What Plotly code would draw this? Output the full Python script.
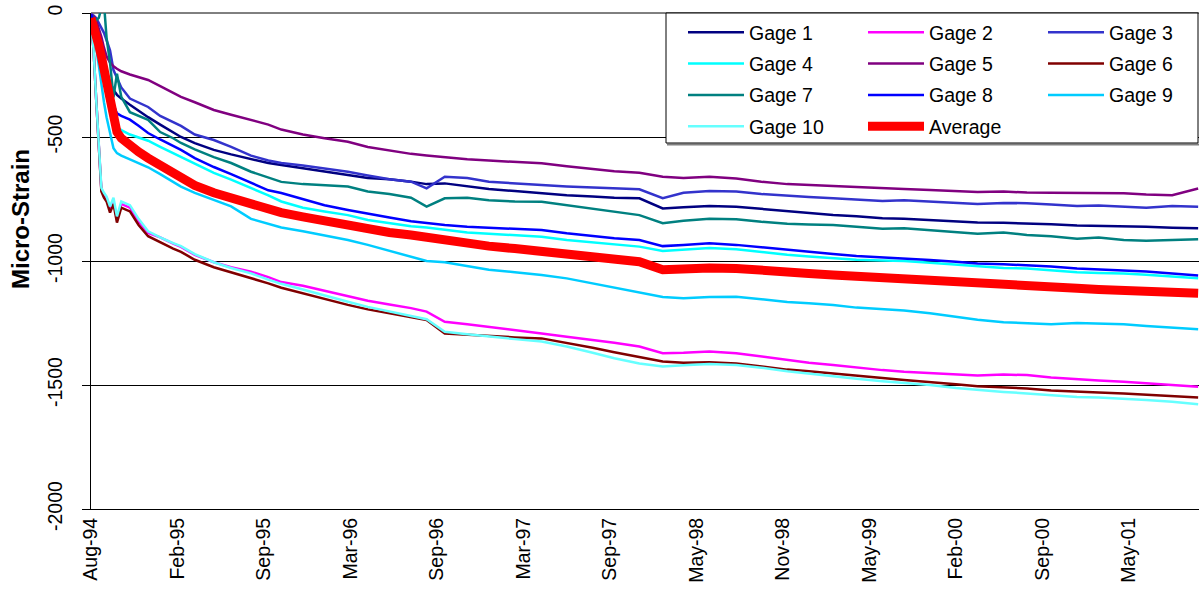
import plotly.graph_objects as go

# x positions in units of "tick-label intervals" (Excel category axis, 13 labels)
tick_labels = ["Aug-94", "Feb-95", "Sep-95", "Mar-96", "Sep-96", "Mar-97", "Sep-97",
               "May-98", "Nov-98", "May-99", "Feb-00", "Sep-00", "May-01"]
tick_positions = list(range(len(tick_labels)))
y_tick_values = [0, -500, -1000, -1500, -2000]
y_tick_labels = ["0", "-500", "-1000", "-1500", "-2000"]

t_pos = [0.00, 0.03, 0.06, 0.09, 0.12, 0.15, 0.18, 0.22, 0.26, 0.30, 0.35, 0.45, 0.55, 0.66,
         0.80, 0.95, 1.04, 1.20, 1.42, 1.62, 1.85, 2.05, 2.20, 2.45, 2.70, 2.97, 3.20, 3.45,
         3.70, 3.88, 4.09, 4.35, 4.60, 4.90, 5.21, 5.50, 5.80, 6.05, 6.34, 6.61, 6.85, 7.15,
         7.46, 7.75, 8.05, 8.30, 8.58, 8.85, 9.15, 9.40, 9.70, 10.0, 10.25, 10.55, 10.82, 11.1,
         11.4, 11.65, 11.94, 12.2, 12.5, 12.8]

gage1 = [-10, -30, -60, -100, -150, -200, -240, -280, -310, -330, -345, -370, -395, -420,
         -450, -480, -500, -525, -552, -570, -590, -605, -613, -625, -640, -653, -665, -670,
         -680, -690, -687, -700, -710, -718, -727, -735, -740, -745, -747, -788, -783, -778,
         -781, -790, -800, -808, -815, -820, -828, -830, -835, -842, -845, -846, -848, -852,
         -857, -858, -859, -862, -866, -868]
gage2 = [-30, -150, -350, -550, -714, -730, -745, -790, -760, -830, -770, -785, -840, -887,
         -905, -930, -943, -975, -1005, -1025, -1043, -1065, -1085, -1100, -1120, -1144, -1160, -1175,
         -1190, -1204, -1245, -1255, -1265, -1278, -1292, -1305, -1318, -1330, -1345, -1372, -1370, -1365,
         -1372, -1385, -1400, -1410, -1419, -1430, -1440, -1447, -1453, -1458, -1462, -1458, -1460, -1470,
         -1478, -1482, -1487, -1492, -1500, -1507]
gage3 = [-5, -10, -20, -40, -60, -80, -110, -150, -230, -260, -300, -345, -360, -379,
         -415, -440, -455, -490, -512, -540, -575, -595, -605, -615, -628, -640, -655, -670,
         -680, -707, -660, -665, -680, -688, -694, -700, -703, -708, -711, -747, -725, -718,
         -720, -730, -738, -742, -747, -752, -758, -755, -761, -768, -770, -766, -767, -772,
         -778, -776, -781, -785, -778, -781]
gage4 = [-10, -40, -80, -130, -190, -260, -330, -400, -440, -460, -472, -490, -503, -515,
         -540, -565, -580, -610, -645, -672, -705, -735, -760, -785, -800, -815, -835, -848,
         -860, -865, -875, -885, -890, -895, -902, -915, -925, -935, -942, -960, -955, -948,
         -953, -965, -975, -982, -989, -995, -998, -1000, -1007, -1015, -1022, -1028, -1030, -1038,
         -1045, -1048, -1050, -1055, -1062, -1070]
gage5 = [-5, -15, -30, -60, -96, -140, -175, -200, -215, -225, -235, -248, -258, -270,
         -295, -320, -338, -360, -391, -410, -432, -450, -470, -490, -505, -519, -540, -555,
         -568, -575, -582, -590, -595, -600, -606, -618, -630, -638, -644, -660, -665, -660,
         -667, -680, -690, -695, -698, -702, -708, -710, -714, -718, -722, -720, -724, -725,
         -726, -728, -727, -732, -735, -708]
gage6 = [-30, -150, -350, -550, -720, -745, -760, -805, -770, -845, -785, -800, -855, -900,
         -925, -950, -963, -995, -1025, -1045, -1068, -1090, -1108, -1130, -1155, -1177, -1195, -1210,
         -1225, -1238, -1292, -1298, -1303, -1308, -1312, -1330, -1350, -1368, -1386, -1405, -1410, -1408,
         -1413, -1425, -1438, -1445, -1453, -1462, -1472, -1480, -1487, -1497, -1505, -1510, -1514, -1522,
         -1528, -1530, -1534, -1538, -1543, -1550]
gage7 = [-10, -20, -30, -20, 20, 40, -100, -200, -340, -245, -338, -400, -415, -431,
         -480, -505, -524, -550, -581, -605, -640, -665, -681, -690, -695, -700, -720, -730,
         -745, -781, -747, -745, -755, -760, -761, -775, -790, -800, -815, -848, -838, -830,
         -832, -842, -850, -853, -855, -862, -870, -868, -875, -885, -890, -885, -895, -900,
         -910, -905, -915, -918, -915, -912]
gage8 = [-5, -30, -70, -120, -170, -215, -255, -300, -370, -405, -415, -430, -455, -484,
         -510, -535, -552, -585, -621, -650, -685, -715, -726, -750, -775, -794, -810, -825,
         -840, -848, -855, -862, -866, -872, -875, -888, -900, -908, -915, -940, -935, -928,
         -935, -945, -955, -965, -972, -980, -985, -990, -996, -1003, -1010, -1013, -1016, -1022,
         -1030, -1033, -1036, -1042, -1050, -1058]
gage9 = [-30, -80, -140, -210, -290, -360, -420, -490, -545, -565, -575, -590, -605, -622,
         -650, -680, -700, -725, -755, -780, -830, -850, -865, -880, -898, -915, -935, -960,
         -985, -1000, -1005, -1020, -1035, -1045, -1056, -1070, -1090, -1105, -1125, -1145, -1150, -1145,
         -1144, -1155, -1165, -1170, -1177, -1188, -1195, -1200, -1211, -1225, -1237, -1247, -1252, -1255,
         -1250, -1252, -1255, -1262, -1268, -1275]
gage10 = [-30, -150, -350, -550, -705, -725, -740, -780, -745, -820, -760, -775, -830, -880,
          -905, -928, -940, -972, -1005, -1028, -1050, -1075, -1092, -1115, -1140, -1164, -1185, -1205,
          -1222, -1235, -1285, -1295, -1305, -1315, -1325, -1345, -1370, -1392, -1413, -1425, -1420, -1415,
          -1419, -1430, -1445, -1455, -1466, -1475, -1485, -1492, -1500, -1512, -1520, -1528, -1534, -1542,
          -1548, -1550, -1554, -1560, -1568, -1578]
average = [-20, -50, -90, -130, -175, -225, -280, -350, -430, -480, -505, -535, -560, -585,
           -615, -650, -670, -695, -725, -745, -772, -790, -805, -822, -840, -855, -870, -885,
           -895, -905, -920, -930, -940, -950, -962, -975, -985, -995, -1003, -1035, -1030, -1028,
           -1030, -1040, -1045, -1050, -1056, -1062, -1068, -1072, -1077, -1085, -1090, -1095, -1097, -1105,
           -1110, -1115, -1117, -1120, -1125, -1130]

series_names = ["Gage 1", "Gage 2", "Gage 3", "Gage 4", "Gage 5", "Gage 6", "Gage 7",
                "Gage 8", "Gage 9", "Gage 10", "Average"]
series_values = [gage1, gage2, gage3, gage4, gage5, gage6, gage7, gage8, gage9, gage10, average]
series_colors = ["#000080", "#FF00FF", "#3333CC", "#00FFFF", "#800080", "#800000", "#008080",
                 "#0000FF", "#00CCFF", "#66FFFF", "#FF0000"]
series_widths = [2.5] * 10 + [9]
# legend columns (3 columns, filled row by row)
legend_ids = ["legend", "legend2", "legend3", "legend", "legend2", "legend3",
              "legend", "legend2", "legend3", "legend", "legend2"]

FONT = "Liberation Sans, Arial, sans-serif"
W, H = 1199, 589
ML, MR, MT, MB = 91, 0, 13, 80
PW, PH = W - ML - MR, H - MT - MB


def px_x(px):
    # target pixel in the screenshot -> paper coordinate
    return (px - ML) / PW


def px_y(py):
    return (H - MB - py) / PH


fig = go.Figure()
for name, vals, col, wd, lg in zip(series_names, series_values, series_colors, series_widths, legend_ids):
    fig.add_trace(go.Scatter(x=t_pos, y=vals, mode="lines", name=name, legendgroup=name,
                             line=dict(color=col, width=wd), legend=lg))

legend_common = dict(orientation="v", itemwidth=56, bgcolor="rgba(0,0,0,0)", borderwidth=0,
                     tracegroupgap=3, traceorder="grouped",
                     font=dict(family=FONT, size=19.5, color="black"),
                     xanchor="left", yanchor="top", itemclick=False)
leg_top = 13
fig.update_layout(
    width=W, height=H,
    margin=dict(l=ML, r=MR, t=MT, b=MB, autoexpand=False),
    paper_bgcolor="white", plot_bgcolor="white",
    font=dict(family=FONT, size=19.5, color="black"),
    legend=dict(x=px_x(683), y=px_y(leg_top), **legend_common),
    legend2=dict(x=px_x(863), y=px_y(leg_top), **legend_common),
    legend3=dict(x=px_x(1043), y=px_y(leg_top), **legend_common),
    xaxis=dict(range=[0, 12.81], tickvals=tick_positions, ticktext=tick_labels,
               tickangle=-90, showgrid=False, zeroline=False, showline=True,
               linecolor="black", linewidth=1, ticks="", automargin=False,
               tickfont=dict(family=FONT, size=19.5, color="black")),
    yaxis=dict(range=[-2000, 0], tickvals=y_tick_values, ticktext=y_tick_labels,
               tickangle=-90, showgrid=True,
               gridcolor="black", gridwidth=1, zeroline=False, showline=True,
               linecolor="black", linewidth=1, ticks="outside", ticklen=8,
               tickcolor="black", automargin=False, ticklabelstandoff=12,
               tickfont=dict(family=FONT, size=19.5, color="black")),
    shapes=[dict(type="line", xref="paper", yref="paper", x0=0, x1=1, y0=1, y1=1,
                 line=dict(color="black", width=1), layer="below"),
            dict(type="line", xref="paper", yref="paper",
                 x0=px_x(667), x1=px_x(1199), y0=px_y(144.5), y1=px_y(144.5),
                 line=dict(color="#808080", width=2), layer="above"),
            dict(type="rect", xref="paper", yref="paper",
                 x0=px_x(666), x1=px_x(1198), y0=px_y(143), y1=px_y(13),
                 line=dict(color="black", width=1), fillcolor="white", layer="above")],
    annotations=[dict(text="<b>Micro-Strain</b>", xref="paper", yref="paper",
                      x=px_x(21), y=px_y(219), xanchor="center", yanchor="middle",
                      textangle=-90, showarrow=False,
                      font=dict(family=FONT, size=24, color="black"))],
)

fig.write_html("out.html", config={"displayModeBar": False},
               post_script="document.body.style.margin='0';document.body.style.overflow='hidden';")
